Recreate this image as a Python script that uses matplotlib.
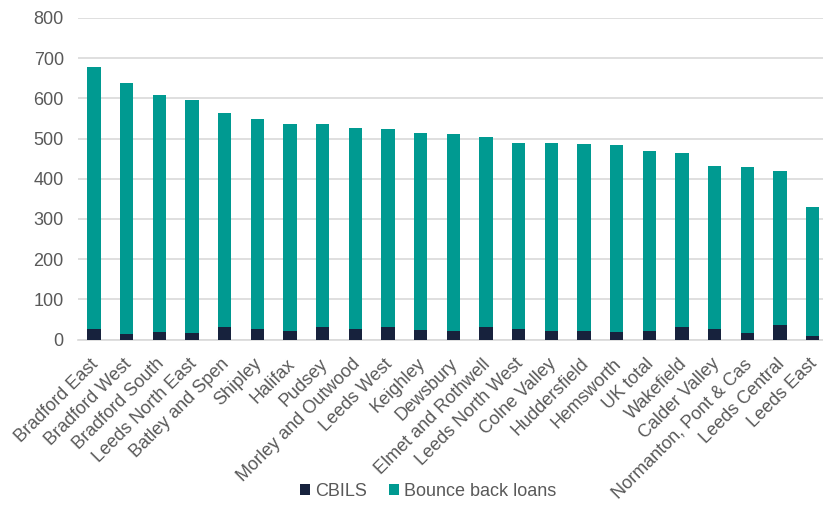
import matplotlib.pyplot as plt
import matplotlib.transforms as mtransforms
import numpy as np

plt.rcParams['font.family'] = ['Liberation Sans', 'DejaVu Sans']

# constituencies, ordered by total loans per 1,000 businesses
areas = ["Bradford East", "Bradford West", "Bradford South", "Leeds North East",
         "Batley and Spen", "Shipley", "Halifax", "Pudsey", "Morley and Outwood",
         "Leeds West", "Keighley", "Dewsbury", "Elmet and Rothwell",
         "Leeds North West", "Colne Valley", "Huddersfield", "Hemsworth",
         "UK total", "Wakefield", "Calder Valley", "Normanton, Pont & Cas",
         "Leeds Central", "Leeds East"]
cbils = [25, 13, 18, 16, 30, 25, 20, 30, 27, 30, 23, 20, 30, 25, 20, 20, 18,
         20, 30, 25, 17, 36, 8]
totals = [678, 638, 609, 597, 564, 549, 535, 535, 526, 523, 514, 511, 504,
          489, 489, 487, 485, 468, 465, 431, 430, 420, 329]
bounce_back = [t - c for t, c in zip(totals, cbils)]

navy = "#17223d"
teal = "#009a91"
grey_text = "#595959"
grid = "#d9d9d9"

fig = plt.figure(figsize=(8.23, 5.07), dpi=100)
ax = fig.add_axes([77.7 / 823, 1 - 339.5 / 507, 751.4 / 823, 321.5 / 507])

x = np.arange(len(areas))
ax.bar(x, cbils, width=0.41, color=navy, label="CBILS", zorder=3)
ax.bar(x, bounce_back, width=0.41, bottom=cbils, color=teal,
       label="Bounce back loans", zorder=3)

ax.set_xlim(-0.5, len(areas) - 0.5)
ax.set_ylim(0, 800)
ax.set_yticks(range(0, 801, 100))
ax.yaxis.grid(True, color=grid, linewidth=1.2, zorder=0)
for s in ["top", "right", "left"]:
    ax.spines[s].set_visible(False)
ax.spines["bottom"].set_color(grid)
ax.spines["bottom"].set_linewidth(1.2)

ax.set_xticks(x)
ax.set_xticklabels(areas, rotation=45, ha="right", rotation_mode="anchor")
ax.tick_params(axis="both", length=0, labelsize=13, labelcolor=grey_text)
ax.tick_params(axis="x", pad=10)
ax.tick_params(axis="y", pad=10)

# nudge the slanted labels a little left so the last one stays inside
shift = mtransforms.ScaledTranslation(-4 / 100, -2 / 100, fig.dpi_scale_trans)
for lbl in ax.get_xticklabels():
    lbl.set_transform(lbl.get_transform() + shift)

fig.legend(loc="center", bbox_to_anchor=(428 / 823, 1 - 491 / 507), ncol=2,
           frameon=False, fontsize=13, handlelength=0.55, handleheight=0.55,
           handletextpad=0.3, columnspacing=1.2, labelcolor=grey_text)

fig.savefig("out.png", dpi=100)
